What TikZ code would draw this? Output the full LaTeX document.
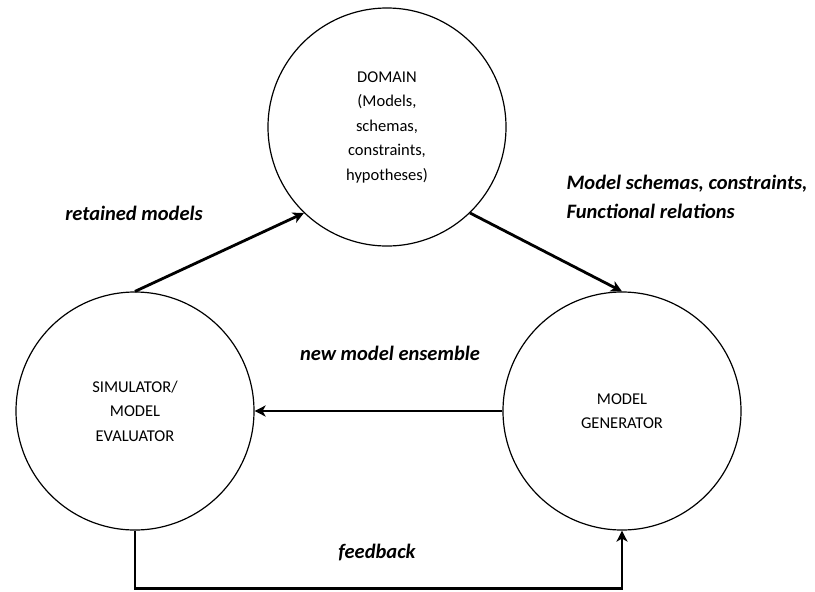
\documentclass[tikz,border=0pt]{standalone}
\usepackage{fontspec}
\setmainfont{Carlito}
\usetikzlibrary{arrows.meta}
\begin{document}
\begin{tikzpicture}[x=1pt,y=-1pt,
  bubble/.style={circle,draw,line width=1.2pt,minimum size=238pt,inner sep=0pt,align=center,font=\fontsize{16.5}{24.5}\selectfont},
  flow/.style={line width=2.8pt,-{Stealth[length=11pt,width=11pt,inset=3pt]}},
  lbl/.style={font=\fontsize{20.5}{29}\selectfont\bfseries\itshape}]
\useasboundingbox (0,0) rectangle (815,592);
\node[bubble] (dom) at (387,127) {DOMAIN\\(Models,\\schemas,\\constraints,\\hypotheses)};
\node[bubble] (sim) at (135,411) {SIMULATOR/\\MODEL\\EVALUATOR};
\node[bubble] (gen) at (622,411) {MODEL\\GENERATOR};
\draw[flow] (sim.north) -- (dom.226);
\draw[flow] (dom.314) -- (gen.north);
\draw[flow] (gen.west) -- (sim.east);
\draw[flow] (sim.south) -- ++(0,58) coordinate (fb) -| (gen.south);
\node[lbl] (l1) at (134,213) {retained models};
\node[lbl,align=left,anchor=west] (l2) at (563,197) {Model schemas, constraints,\\Functional relations};
\node[lbl] (l3) at (390,353) {new model ensemble};
\node[lbl] (l4) at (377,552) {feedback};
\end{tikzpicture}
\end{document}
